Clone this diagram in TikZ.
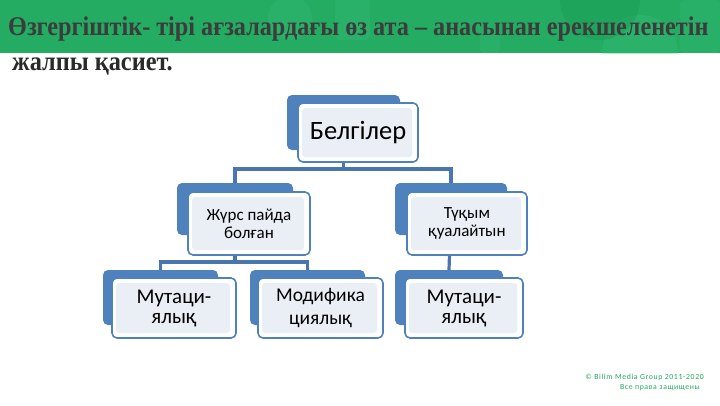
\documentclass[tikz,border=0pt]{standalone}
\usepackage{fontspec}
\usepackage{graphicx}
\setmainfont{Carlito}
\newfontfamily\titlefont{Liberation Serif}
\newfontfamily\footfont{Carlito}
\definecolor{banner}{HTML}{23AC62}
\definecolor{bannerlight}{HTML}{3CBF7A}
\definecolor{bannerdark}{HTML}{1C9E57}
\definecolor{titlegray}{HTML}{3C3C3C}
\definecolor{smblue}{HTML}{4F81BD}
\definecolor{conblue}{HTML}{4A76B0}
\definecolor{innerfill}{HTML}{EAEFF6}
\definecolor{footgreen}{HTML}{22A85E}
\tikzset{
  backbox/.style={fill=smblue, rounded corners=5pt, inner sep=0pt},
  frontbox/.style={draw=smblue, line width=1.6pt, fill=white, rounded corners=5pt,
    inner sep=0pt, align=center, text=black,
    path picture={\fill[innerfill, rounded corners=3pt]
      ([shift={(4pt,-5pt)}]path picture bounding box.north west) rectangle
      ([shift={(-6pt,5pt)}]path picture bounding box.south east);}},
  conn/.style={draw=conblue, line width=3.2pt},
}
\begin{document}
\begin{tikzpicture}[x=1pt,y=-1pt]
\useasboundingbox (0,0) rectangle (720,405);
% banner
\fill[banner] (0,0) rectangle (720,53);
\begin{scope}
\clip (0,0) rectangle (720,53);
\fill[bannerlight, opacity=0.35] (640,53) circle (38);
\fill[bannerdark, opacity=0.5] (600,0) circle (40);
\fill[bannerlight, opacity=0.3, rounded corners=6pt] (335,-5) rectangle (370,40);
\fill[bannerlight, opacity=0.3] (290,18) circle (22);
\fill[bannerlight, opacity=0.25, rounded corners=6pt] (680,0) rectangle (720,53);
\fill[bannerlight, opacity=0.25, rounded corners=4pt] (480,30) rectangle (500,53);
\end{scope}
\node[anchor=base west, inner sep=0pt, text=titlegray,
  font=\titlefont\bfseries\fontsize{27}{30}\selectfont] (title) at (8,35)
  {\scalebox{0.896}[1]{Өзгергіштік- тірі ағзалардағы өз ата – анасынан ерекшеленетін}};
\node[anchor=base west, inner sep=0pt, text=titlegray!70!black,
  font=\titlefont\bfseries\fontsize{27}{30}\selectfont] (title2) at (12,70)
  {\scalebox{0.9}[1]{жалпы қасиет.}};
% back boxes
\node[backbox, minimum width=113, minimum height=55] (b1) at (343.5,122.5) {};
\node[backbox, minimum width=116, minimum height=52] (b2) at (235,209) {};
\node[backbox, minimum width=112, minimum height=52] (b3) at (451,209) {};
\node[backbox, minimum width=115, minimum height=55] (b4) at (160.5,297.5) {};
\node[backbox, minimum width=115, minimum height=55] (b5) at (307.5,297.5) {};
\node[backbox, minimum width=108, minimum height=55] (b6) at (449,297.5) {};
% connectors
\coordinate (j1) at (343.5,169);
\coordinate (j2) at (235,262);
\draw[conn] (b1.center) -- (j1) -| (b2.north);
\draw[conn] (j1) -| (b3.north);
\draw[conn] (b2.center) -- (j2) -| (b4.north);
\draw[conn] (j2) -| (b5.north);
\draw[conn] (b3.center) -- (b6.north);
% front boxes
\node[frontbox, minimum width=120, minimum height=59,
  font=\fontsize{26.5}{28}\selectfont] (f1) at (358,132.5) {Белгілер};
\node[frontbox, minimum width=122, minimum height=63,
  font=\fontsize{17}{18}\selectfont] (f2) at (249,223.5) {Жүрс пайда\\болған};
\node[frontbox, minimum width=120, minimum height=63,
  font=\fontsize{17}{18}\selectfont] (f3) at (467,223.5) {Түқым\\қуалайтын};
\node[frontbox, minimum width=124, minimum height=60,
  font=\fontsize{21}{20}\selectfont] (f4) at (174,308) {Мутаци-\\ялық};
\node[frontbox, minimum width=125, minimum height=60,
  font=\fontsize{19.5}{23}\selectfont] (f5) at (320.5,308) {Модифика\\циялық};
\node[frontbox, minimum width=118, minimum height=60,
  font=\fontsize{21}{20}\selectfont] (f6) at (464,308) {Мутаци-\\ялық};
% footer
\node[anchor=base east, inner sep=0pt, text=footgreen,
  font=\footfont\addfontfeature{LetterSpace=8}\fontsize{7.8}{9}\selectfont] (foot1) at (704,379)
  {© Bilim Media Group 2011-2020};
\node[anchor=base east, inner sep=0pt, text=footgreen,
  font=\footfont\addfontfeature{LetterSpace=8}\fontsize{7.8}{9}\selectfont] (foot2) at (700,389)
  {Все права защищены};
\end{tikzpicture}
\end{document}
